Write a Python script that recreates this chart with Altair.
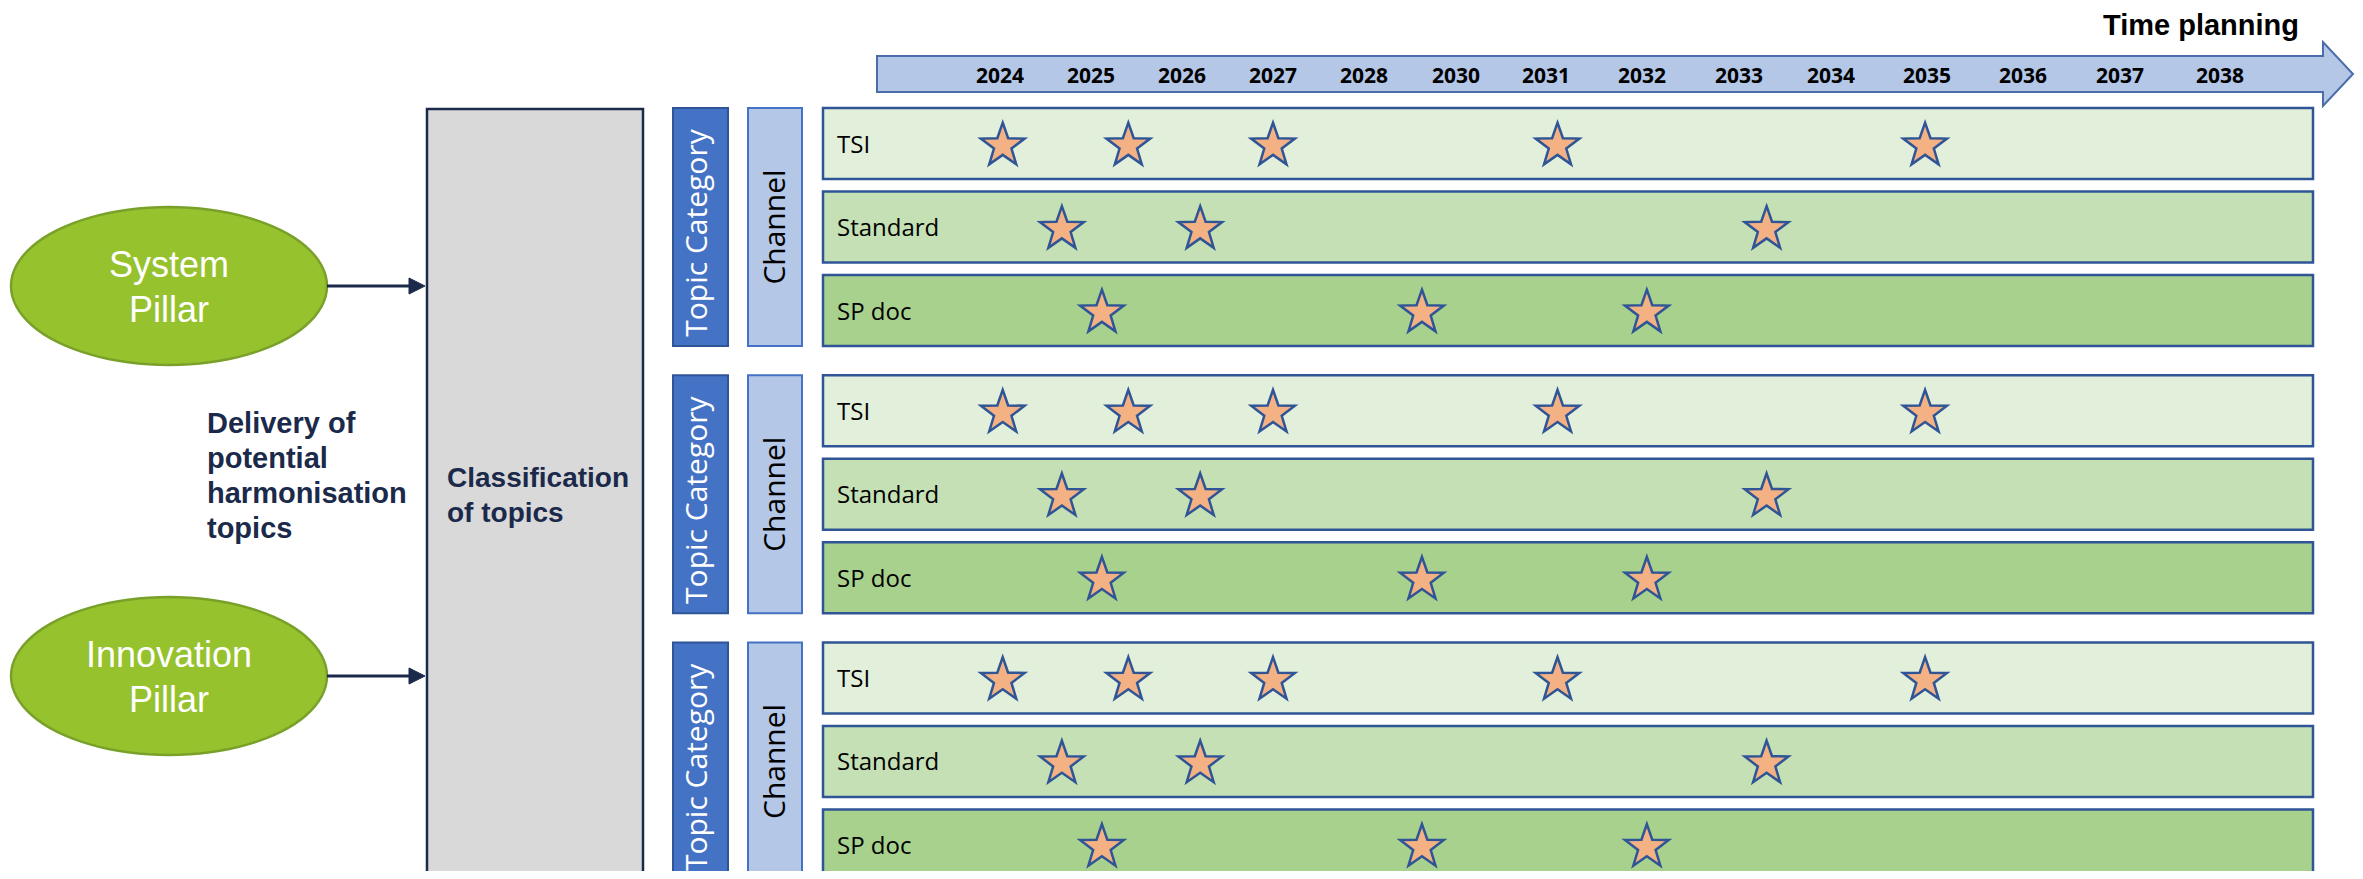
import numpy as np
import pandas as pd
import altair as alt

# ---------------- data ----------------
years = ["2024", "2025", "2026", "2027", "2028", "2030", "2031",
         "2032", "2033", "2034", "2035", "2036", "2037", "2038"]
channels = ["TSI", "Standard", "SP doc"]
groups = [0, 1, 2]
# star positions on the timeline, in units of the year labels (0 = 2024, 1 = 2025, ...)
tsi_pos = [0.03, 1.41, 3.0, 6.12, 9.98]
standard_pos = [0.68, 2.2, 8.3]
spdoc_pos = [1.12, 4.63, 7.05]
pillars = [["System", "Pillar"], ["Innovation", "Pillar"]]
delivery_text = ["Delivery of", "potential", "harmonisation", "topics"]
classification_text = ["Classification", "of topics"]

# ---------------- layout / style ----------------
OFF = 8  # page margin
W, H = 2347, 863
TIMELINE_PX = [1000, 1091, 1182, 1273, 1364, 1456, 1546, 1642, 1739, 1831, 1927, 2023, 2120, 2220]
ROW_PITCH = 83.5
ROW0 = 143.5
GROUP_STEP = 3.2
ROW_HALF = 0.425

x_scale = alt.Scale(domain=list(range(len(years))),
                    range=[p - OFF for p in TIMELINE_PX], nice=False, zero=False)
y_min = -(ROW0 - OFF) / ROW_PITCH
y_max = (H - (ROW0 - OFF)) / ROW_PITCH
y_scale = alt.Scale(domain=[y_min, y_max], reverse=True, nice=False, zero=False)

row_fills = ["#E2EFDA", "#C5E0B4", "#A9D18E"]
BORDER = "#2F5597"
NAVY = "#1B2A4A"

rows_df = pd.DataFrame([{"g": g, "c": ci, "channel": ch}
                        for g in groups for ci, ch in enumerate(channels)])
star_positions = {"TSI": tsi_pos, "Standard": standard_pos, "SP doc": spdoc_pos}
stars_df = pd.DataFrame([{"g": g, "c": ci, "pos": p}
                         for g in groups for ci, ch in enumerate(channels)
                         for p in star_positions[ch]])
groups_df = pd.DataFrame({"g": groups})
years_df = pd.DataFrame({"year": years, "idx": list(range(len(years)))})
one = alt.Data(values=[{}])

slot_expr = f"datum.g * {GROUP_STEP} + datum.c"


def pts_path(pts):
    return "M " + " L ".join(f"{x:.4f} {y:.4f}" for x, y in pts) + " Z"


def star_path(n=5, inner=0.4):
    pts = []
    for k in range(2 * n):
        r = 1 if k % 2 == 0 else inner
        a = -np.pi / 2 + k * np.pi / n
        pts.append((r * np.cos(a), r * np.sin(a) + 0.0955))
    return pts_path(pts)


ellipse_path = pts_path([(np.cos(t), 0.5 * np.sin(t)) for t in np.linspace(0, 2 * np.pi, 97)[:-1]])

# timeline arrow as one custom shape (centre 1615,74; half-length 738 px)
bh, hh, hb = 18 / 738, 32 / 738, (2323 - 1615) / 738
arrow_path = pts_path([(-1, -bh), (hb, -bh), (hb, -hh), (1, 0), (hb, hh), (hb, bh), (-1, bh)])
tri_path = "M -1 -1 L 1 0 L -1 1 Z"

Y = lambda f: alt.Y(f, scale=y_scale, axis=None)
X = lambda f: alt.X(f, scale=x_scale, axis=None)

layers = []

# ---- pillars (ellipses) ----
for i, (cy, lines) in enumerate(zip([286, 676], pillars)):
    layers.append(alt.Chart(one).mark_point(
        shape=ellipse_path, size=316 ** 2, filled=True, fill="#96C22E",
        stroke="#79A12A", strokeWidth=2.5, opacity=1
    ).encode(x=alt.value(169 - OFF), y=alt.value(cy - OFF)))
    layers.append(alt.Chart(one).mark_text(
        text=lines, align="center", baseline="alphabetic", font="Liberation Sans",
        fontSize=36, color="white", lineHeight=45
    ).encode(x=alt.value(169 - OFF), y=alt.value(cy - 9 - OFF)))
    # connector
    layers.append(alt.Chart(one).mark_rule(color=NAVY, strokeWidth=3).encode(
        x=alt.value(327 - OFF), x2=alt.value(412 - OFF), y=alt.value(cy - OFF)))
    layers.append(alt.Chart(one).mark_point(
        shape=tri_path, size=256, filled=True, fill=NAVY, stroke=NAVY, strokeWidth=1, opacity=1
    ).encode(x=alt.value(417 - OFF), y=alt.value(cy - OFF)))

# ---- delivery text ----
layers.append(alt.Chart(one).mark_text(
    text=delivery_text, align="left", baseline="alphabetic", font="Liberation Sans",
    fontWeight="bold", fontSize=29, color=NAVY, lineHeight=35
).encode(x=alt.value(207 - OFF), y=alt.value(433 - OFF)))

# ---- classification box ----
layers.append(alt.Chart(one).mark_rect(fill="#D9D9D9", stroke=NAVY, strokeWidth=2.5).encode(
    x=alt.value(427 - OFF), x2=alt.value(643 - OFF), y=alt.value(109 - OFF), y2=alt.value(H + 10)))
layers.append(alt.Chart(one).mark_text(
    text=classification_text, align="left", baseline="alphabetic", font="Liberation Sans",
    fontWeight="bold", fontSize=28, color=NAVY, lineHeight=35
).encode(x=alt.value(447 - OFF), y=alt.value(487 - OFF)))

# ---- timeline arrow ----
layers.append(alt.Chart(one).mark_point(
    shape=arrow_path, size=1476 ** 2, filled=True, fill="#B4C7E7", stroke="#4A6DAA",
    strokeWidth=2, opacity=1
).encode(x=alt.value(1615 - OFF), y=alt.value(74 - OFF)))
layers.append(alt.Chart(years_df).mark_text(
    align="center", baseline="alphabetic", font="Open Sans", fontWeight="bold",
    fontSize=21, color="black"
).encode(x=X("idx:Q"), y=alt.value(82.5 - OFF), text="year:N"))
layers.append(alt.Chart(one).mark_text(
    text="Time planning", align="right", baseline="alphabetic", font="Liberation Sans",
    fontWeight="bold", fontSize=29, color="black"
).encode(x=alt.value(2299 - OFF), y=alt.value(35 - OFF)))

# ---- topic category / channel boxes ----
gbase = alt.Chart(groups_df).transform_calculate(
    gtop=f"datum.g * {GROUP_STEP} - {ROW_HALF}",
    gbot=f"datum.g * {GROUP_STEP} + 2 + {ROW_HALF}",
    gmid=f"datum.g * {GROUP_STEP} + 1",
    tmid=f"datum.g * {GROUP_STEP} + 1 + {6 / ROW_PITCH}",
)
layers.append(gbase.mark_rect(fill="#4472C4", stroke=BORDER, strokeWidth=2).encode(
    x=alt.value(673 - OFF), x2=alt.value(728 - OFF), y=Y("gtop:Q"), y2="gbot:Q"))
layers.append(gbase.mark_text(
    text="Topic Category", angle=270, align="center", baseline="middle",
    font="Open Sans", fontSize=30, color="white"
).encode(x=alt.value(698 - OFF), y=Y("tmid:Q")))
layers.append(gbase.mark_rect(fill="#B4C7E7", stroke="#4472C4", strokeWidth=2).encode(
    x=alt.value(748 - OFF), x2=alt.value(802 - OFF), y=Y("gtop:Q"), y2="gbot:Q"))
layers.append(gbase.mark_text(
    text="Channel", angle=270, align="center", baseline="middle",
    font="Open Sans", fontSize=30, color="black"
).encode(x=alt.value(776 - OFF), y=Y("gmid:Q")))

# ---- channel rows ----
rbase = alt.Chart(rows_df).transform_calculate(
    slot=slot_expr,
    top=f"{slot_expr} - {ROW_HALF}",
    bot=f"{slot_expr} + {ROW_HALF}",
)
layers.append(rbase.mark_rect(stroke=BORDER, strokeWidth=2.5).encode(
    x=alt.value(823 - OFF), x2=alt.value(2313 - OFF), y=Y("top:Q"), y2="bot:Q",
    fill=alt.Fill("channel:N", scale=alt.Scale(domain=channels, range=row_fills), legend=None)))
layers.append(rbase.mark_text(
    align="left", baseline="middle", dy=2, font="Open Sans", fontSize=24, color="black"
).encode(x=alt.value(837 - OFF), y=Y("slot:Q"), text="channel:N"))

# ---- stars ----
layers.append(alt.Chart(stars_df).transform_calculate(slot=slot_expr).mark_point(
    shape=star_path(), size=46 ** 2, filled=True, fill="#F4B183", stroke=BORDER,
    strokeWidth=2.5, opacity=1
).encode(x=X("pos:Q"), y=Y("slot:Q")))

chart = alt.layer(*layers).properties(
    width=W, height=H, autosize=alt.AutoSizeParams(type="none"), padding=0,
    background="white"
).configure_view(strokeWidth=0)

chart.save("out.html", embed_options={"renderer": "svg", "actions": False})
